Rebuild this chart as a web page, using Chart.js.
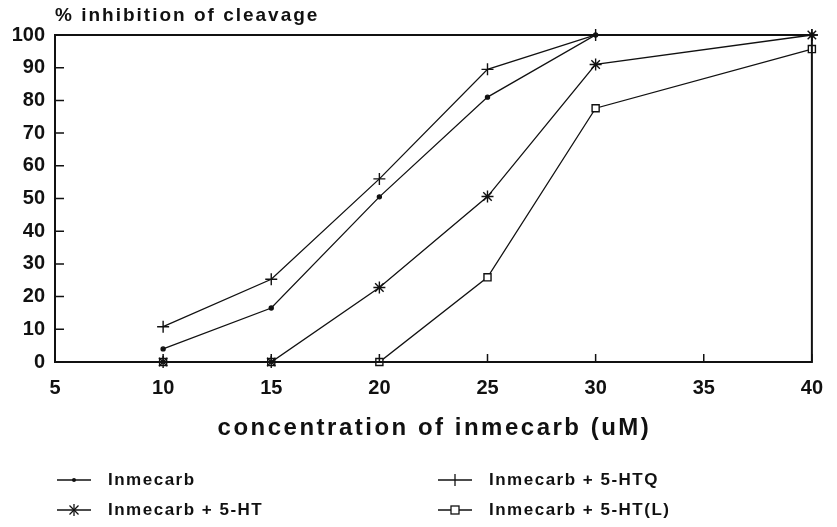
<!DOCTYPE html>
<html>
<head>
<meta charset="utf-8">
<script src="https://cdn.jsdelivr.net/npm/chart.js@4.4.1/dist/chart.umd.min.js"></script>
<style>
  html,body{margin:0;padding:0;background:#fff;}
  #wrap{position:relative;width:837px;height:527px;overflow:hidden;}
  #c{position:absolute;left:0;top:0;}
  .lg{position:absolute;display:flex;align-items:center;font-family:"Liberation Sans",Arial,sans-serif;font-weight:bold;font-size:17px;letter-spacing:1.5px;color:#111;white-space:nowrap;}
  .lg svg{margin-right:17px;}
</style>
</head>
<body>
<div id="wrap">
<canvas id="c" width="837" height="527"></canvas>
<div id="legend"></div>
</div>
<script>
// ---- data ----
const concentrations = [10, 15, 20, 25, 30, 40];
const inmecarb       = [4, 16.5, 50.5, 81, 100, 100];
const inmecarb5HTQ   = [10.8, 25.3, 56, 89.5, 100, 100];
const inmecarb5HT    = [0, 0, 22.8, 50.6, 91, 100];
const inmecarb5HTL   = [0, 0, 0, 25.9, 77.6, 95.7];
const seriesLabels   = ["Inmecarb", "Inmecarb + 5-HTQ", "Inmecarb + 5-HT", "Inmecarb + 5-HT(L)"];
const xTicks = [5, 10, 15, 20, 25, 30, 35, 40];
const yTicks = [0, 10, 20, 30, 40, 50, 60, 70, 80, 90, 100];
const xTitle = "concentration of inmecarb (uM)";
const yTitle = "% inhibition of cleavage";

const FONT = '"Liberation Sans", Arial, sans-serif';
const pts = arr => concentrations.map((x, i) => ({x: x, y: arr[i]}));

const styles = [
  {pointStyle: 'circle', radius: 2, fill: '#111'},
  {pointStyle: 'cross', radius: 6, fill: '#111'},
  {pointStyle: 'star', radius: 6, fill: '#111'},
  {pointStyle: 'rect', radius: 5, fill: '#fff'}
];
const seriesData = [inmecarb, inmecarb5HTQ, inmecarb5HT, inmecarb5HTL];

const datasets = seriesData.map((arr, i) => ({
  label: seriesLabels[i],
  data: pts(arr),
  borderColor: '#111',
  borderWidth: 1.3,
  backgroundColor: styles[i].fill,
  pointStyle: styles[i].pointStyle,
  pointRadius: styles[i].radius,
  pointBorderWidth: 1.4,
  pointBorderColor: '#111',
  pointBackgroundColor: styles[i].fill,
  tension: 0,
  clip: false
}));

const framePlugin = {
  id: 'frame',
  afterDraw(chart) {
    const ctx = chart.ctx, a = chart.chartArea;
    const xs = chart.scales.x, ys = chart.scales.y;
    ctx.save();
    ctx.strokeStyle = '#111';
    ctx.lineWidth = 2;
    ctx.strokeRect(a.left, a.top, a.right - a.left, a.bottom - a.top);
    ctx.lineWidth = 1.5;
    ctx.beginPath();
    yTicks.forEach(v => {
      const y = ys.getPixelForValue(v);
      ctx.moveTo(a.left, y); ctx.lineTo(a.left + 9, y);
    });
    xTicks.forEach(v => {
      const x = xs.getPixelForValue(v);
      ctx.moveTo(x, a.bottom); ctx.lineTo(x, a.bottom - 8);
    });
    ctx.stroke();
    ctx.fillStyle = '#111';
    ctx.textBaseline = 'middle';
    // y title (top-left)
    ctx.font = 'bold 19px ' + FONT;
    ctx.letterSpacing = '2px';
    ctx.textAlign = 'left';
    ctx.fillText(yTitle, a.left, 16);
    // x title
    ctx.font = 'bold 24px ' + FONT;
    ctx.letterSpacing = '2.5px';
    ctx.textAlign = 'center';
    ctx.fillText(xTitle, (a.left + a.right) / 2 + 1, 428);
    ctx.letterSpacing = '0px';
    ctx.restore();
  }
};

new Chart(document.getElementById('c'), {
  type: 'line',
  data: {datasets: datasets},
  options: {
    responsive: false,
    animation: false,
    devicePixelRatio: 1,
    layout: {padding: {left: 0, right: 17, top: 35, bottom: 75}},
    plugins: {legend: {display: false}, title: {display: false}, tooltip: {enabled: false}},
    scales: {
      x: {
        type: 'linear', min: 5, max: 40,
        afterBuildTicks: s => { s.ticks = xTicks.map(v => ({value: v})); },
        afterFit: s => { s.height = 90; },
        grid: {display: false, drawTicks: false},
        border: {display: false},
        ticks: {color: '#111', padding: 14, font: {family: FONT, size: 20, weight: 'bold'}, maxRotation: 0},
        title: {display: false}
      },
      y: {
        type: 'linear', min: 0, max: 100,
        afterBuildTicks: s => { s.ticks = yTicks.map(v => ({value: v})); },
        afterFit: s => { s.width = 55; },
        grid: {display: false, drawTicks: false},
        border: {display: false},
        ticks: {color: '#111', padding: 10, font: {family: FONT, size: 20, weight: 'bold'}}
      }
    }
  },
  plugins: [framePlugin]
});

// ---- HTML legend ----
const legendPos = [
  {x: 57, y: 480}, {x: 438, y: 480}, {x: 57, y: 510}, {x: 438, y: 510}
];
function markerSvg(st) {
  const c = 17, m = 8;
  let s = '<line x1="0" y1="' + m + '" x2="34" y2="' + m + '" stroke="#111" stroke-width="1.3"/>';
  if (st.pointStyle === 'circle') s += '<circle cx="' + c + '" cy="' + m + '" r="2" fill="#111"/>';
  if (st.pointStyle === 'cross') s += '<line x1="' + c + '" y1="' + (m - 6) + '" x2="' + c + '" y2="' + (m + 6) + '" stroke="#111" stroke-width="1.3"/>';
  if (st.pointStyle === 'star') {
    s += '<line x1="' + c + '" y1="' + (m - 6) + '" x2="' + c + '" y2="' + (m + 6) + '" stroke="#111" stroke-width="1.3"/>';
    s += '<line x1="' + (c - 4.5) + '" y1="' + (m - 4.5) + '" x2="' + (c + 4.5) + '" y2="' + (m + 4.5) + '" stroke="#111" stroke-width="1.3"/>';
    s += '<line x1="' + (c + 4.5) + '" y1="' + (m - 4.5) + '" x2="' + (c - 4.5) + '" y2="' + (m + 4.5) + '" stroke="#111" stroke-width="1.3"/>';
  }
  if (st.pointStyle === 'rect') s += '<rect x="' + (c - 4) + '" y="' + (m - 4) + '" width="8" height="8" fill="#fff" stroke="#111" stroke-width="1.3"/>';
  return '<svg width="34" height="16" viewBox="0 0 34 16">' + s + '</svg>';
}
const lg = document.getElementById('legend');
const order = [0, 1, 2, 3];
order.forEach((i, k) => {
  const d = document.createElement('div');
  d.className = 'lg';
  d.style.left = legendPos[k].x + 'px';
  d.style.top = (legendPos[k].y - 10) + 'px';
  d.innerHTML = markerSvg(styles[i]) + '<span>' + seriesLabels[i] + '</span>';
  lg.appendChild(d);
});
</script>
</body>
</html>
